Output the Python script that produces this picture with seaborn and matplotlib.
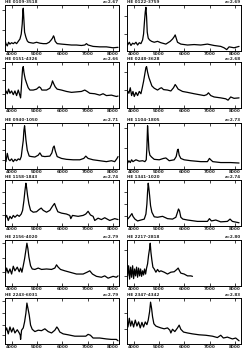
import matplotlib
matplotlib.use("Agg")
import matplotlib.pyplot as plt
import seaborn as sns

sns.set_style("ticks")
plt.rcParams['font.family'] = ['DejaVu Sans']

names = ["HE 0109-3518", "HE 0122-3759", "HE 0151-4326", "HE 0248-3628",
         "HE 0940-1050", "HE 1104-1805", "HE 1158-1843", "HE 1341-1020",
         "HE 2156-4020", "HE 2217-2818", "HE 2243-6031", "HE 2347-4342"]
zlabels = ["z=2.67", "z=2.69", "z=2.66", "z=2.68", "z=2.71", "z=2.73",
           "z=2.74", "z=2.74", "z=2.79", "z=2.80", "z=2.79", "z=2.83"]
xticks = [4000, 5000, 6000, 7000, 8000]
xticklabels = ["4000", "5000", "6000", "7000", "8000"]

wl1 = [3738, 3777, 3830, 3882, 3935, 4000, 4066, 4131, 4197, 4262, 4328, 4380, 4419, 4446, 4459, 4485, 4511, 4563, 4616, 4668, 4747, 4852, 4983, 5114, 5245, 5376, 5480, 5559, 5611, 5651, 5677, 5717, 5795, 5965, 6162, 6358, 6555, 6751, 6882, 6948, 7013, 7210, 7472, 7734, 7996, 8192]
fl1 = [.24, .16, .11, .19, .15, .18, .16, .19, .16, .21, .26, .37, .59, .89, .93, .67, .41, .30, .22, .19, .18, .17, .19, .17, .16, .16, .19, .24, .28, .33, .30, .21, .16, .15, .14, .13, .13, .12, .13, .16, .13, .10, .09, .09, .07, .08]

wl2 = [3725, 3764, 3830, 3895, 3961, 4026, 4092, 4157, 4223, 4288, 4354, 4393, 4432, 4459, 4485, 4511, 4537, 4576, 4629, 4707, 4812, 4943, 5074, 5271, 5441, 5533, 5598, 5638, 5677, 5729, 5860, 6122, 6384, 6646, 6908, 7170, 7432, 7563, 7668, 7760, 7956, 8153]
fl2 = [.19, .13, .19, .12, .17, .15, .19, .13, .18, .16, .24, .37, .67, .85, .95, .74, .41, .28, .24, .21, .19, .21, .18, .15, .21, .26, .31, .35, .28, .19, .15, .13, .14, .13, .15, .12, .10, .07, .03, .09, .07, .10]

wl3 = [3777, 3830, 3882, 3935, 4000, 4066, 4131, 4197, 4262, 4301, 4354, 4380, 4406, 4433, 4459, 4485, 4511, 4537, 4590, 4655, 4721, 4852, 4983, 5087, 5140, 5192, 5376, 5507, 5573, 5611, 5664, 5717, 5795, 5965, 6162, 6358, 6555, 6751, 6882, 6974, 7079, 7275, 7472, 7603, 7734, 7931, 8127, 8192]
fl3 = [.37, .31, .41, .32, .37, .29, .37, .27, .39, .32, .22, .41, .65, .85, .90, .78, .70, .63, .54, .44, .39, .39, .41, .46, .44, .39, .39, .43, .51, .59, .52, .46, .41, .39, .36, .34, .35, .36, .39, .36, .32, .31, .28, .31, .27, .28, .25, .26]

wl4 = [3764, 3816, 3869, 3921, 3974, 4026, 4092, 4157, 4223, 4288, 4341, 4393, 4445, 4485, 4511, 4550, 4603, 4655, 4720, 4812, 4943, 5048, 5100, 5179, 5336, 5467, 5572, 5638, 5677, 5755, 5926, 6122, 6384, 6581, 6777, 6882, 6948, 7039, 7170, 7432, 7629, 7720, 7825, 7956, 8153]
fl4 = [.37, .32, .44, .27, .36, .25, .34, .27, .36, .31, .44, .58, .75, .88, .90, .78, .66, .58, .48, .43, .39, .43, .44, .40, .39, .37, .44, .51, .48, .41, .36, .34, .31, .29, .27, .29, .33, .27, .24, .22, .20, .17, .24, .21, .22]

wl5 = [3777, 3830, 3882, 3935, 4000, 4066, 4131, 4197, 4262, 4328, 4380, 4419, 4459, 4485, 4511, 4537, 4563, 4616, 4694, 4786, 4917, 5048, 5114, 5192, 5310, 5507, 5586, 5638, 5677, 5717, 5795, 5965, 6162, 6424, 6686, 6843, 6922, 7013, 7210, 7472, 7734, 7931, 8062, 8153, 8192]
fl5 = [.16, .34, .21, .18, .22, .16, .21, .18, .22, .20, .27, .45, .62, .84, .94, .80, .64, .41, .28, .27, .26, .30, .35, .28, .27, .28, .35, .47, .50, .40, .27, .23, .21, .20, .20, .23, .28, .23, .20, .18, .16, .18, .16, .23, .27]

wl6 = [3764, 3816, 3869, 3921, 3974, 4092, 4223, 4354, 4445, 4498, 4524, 4550, 4576, 4603, 4642, 4707, 4812, 5009, 5179, 5271, 5402, 5598, 5677, 5729, 5755, 5795, 5860, 5991, 6253, 6646, 6908, 6987, 7039, 7118, 7432, 7825, 8153]
fl6 = [.13, .18, .14, .20, .16, .20, .17, .18, .16, .20, .48, .94, .70, .41, .30, .26, .21, .20, .23, .24, .18, .20, .27, .41, .43, .30, .23, .20, .18, .16, .16, .23, .20, .16, .14, .14, .13]

wl7 = [3738, 3804, 3869, 3935, 4000, 4066, 4131, 4223, 4301, 4380, 4433, 4485, 4524, 4563, 4590, 4629, 4681, 4747, 4852, 4983, 5087, 5166, 5245, 5376, 5507, 5611, 5690, 5743, 5821, 5965, 6162, 6293, 6332, 6397, 6620, 6817, 6922, 7013, 7105, 7210, 7275, 7406, 7537, 7668, 7865, 8062, 8192]
fl7 = [.16, .23, .12, .21, .16, .23, .19, .24, .21, .26, .34, .55, .76, .93, .84, .66, .48, .34, .30, .31, .36, .39, .34, .30, .34, .43, .49, .41, .31, .28, .26, .23, .16, .23, .21, .23, .26, .32, .24, .21, .12, .17, .14, .18, .12, .16, .14]

wl8 = [3764, 3830, 3895, 3934, 3974, 4052, 4157, 4288, 4419, 4485, 4524, 4550, 4576, 4603, 4629, 4668, 4720, 4812, 4943, 5140, 5336, 5533, 5664, 5729, 5768, 5808, 5860, 5939, 6122, 6515, 6908, 6987, 7065, 7236, 7432, 7694, 7799, 7891, 8153]
fl8 = [.15, .19, .24, .27, .21, .15, .11, .13, .15, .26, .48, .74, .93, .81, .67, .44, .30, .20, .19, .21, .16, .15, .19, .30, .37, .33, .19, .15, .13, .10, .10, .16, .11, .13, .09, .10, .15, .10, .07]

wl9 = [3738, 3804, 3869, 3935, 4000, 4066, 4131, 4223, 4301, 4354, 4406, 4459, 4511, 4563, 4603, 4642, 4681, 4747, 4812, 4917, 5048, 5179, 5376, 5573, 5703, 5769, 5834, 5926, 6096, 6293, 6555, 6817, 6974, 7079, 7184, 7341, 7537, 7668, 7800, 7996, 8127, 8192]
fl9 = [.22, .39, .28, .37, .26, .43, .33, .41, .31, .39, .30, .44, .59, .78, .93, .81, .63, .44, .37, .36, .39, .36, .37, .36, .39, .46, .41, .36, .33, .30, .26, .26, .30, .33, .26, .21, .19, .22, .17, .21, .19, .22]

wl10 = [3725, 3764, 3803, 3843, 3882, 3921, 3961, 4000, 4039, 4078, 4118, 4157, 4197, 4236, 4275, 4314, 4354, 4393, 4432, 4472, 4511, 4550, 4590, 4629, 4655, 4681, 4720, 4760, 4812, 4878, 4943, 5009, 5074, 5205, 5336, 5467, 5598, 5703, 5755, 5808, 5860, 5991, 6122, 6253, 6319]
fl10 = [.48, .22, .44, .15, .41, .19, .44, .16, .37, .22, .41, .19, .39, .22, .37, .21, .33, .24, .37, .26, .39, .48, .67, .81, .93, .74, .56, .41, .37, .30, .36, .31, .33, .30, .26, .30, .31, .36, .39, .33, .28, .26, .22, .22, .21]

wl11 = [3738, 3804, 3869, 3935, 4000, 4066, 4131, 4223, 4301, 4341, 4354, 4393, 4459, 4511, 4563, 4603, 4642, 4694, 4747, 4812, 4917, 5048, 5179, 5310, 5441, 5573, 5703, 5782, 5834, 5900, 6031, 6227, 6489, 6751, 6922, 7013, 7105, 7210, 7472, 7734, 7931, 8127, 8192]
fl11 = [.26, .35, .22, .37, .26, .35, .24, .31, .24, .19, .10, .30, .35, .48, .67, .89, .78, .63, .41, .32, .27, .30, .29, .33, .27, .24, .30, .37, .33, .26, .22, .20, .17, .17, .17, .21, .19, .13, .13, .11, .10, .10, .07]

wl12 = [3725, 3777, 3830, 3882, 3934, 4000, 4066, 4131, 4197, 4262, 4328, 4393, 4459, 4524, 4576, 4629, 4668, 4707, 4747, 4799, 4878, 4969, 5074, 5205, 5336, 5428, 5467, 5533, 5624, 5729, 5795, 5860, 5965, 6122, 6319, 6581, 6843, 7105, 7301, 7432, 7537, 7694, 7891, 8022, 8153]
fl12 = [.48, .37, .56, .39, .50, .37, .52, .39, .48, .35, .47, .37, .48, .42, .52, .70, .91, .78, .59, .44, .39, .37, .35, .33, .35, .30, .24, .32, .27, .35, .41, .32, .26, .24, .22, .20, .19, .17, .14, .19, .13, .15, .11, .13, .07]

yticks = [[0.46, 0.89], [0.37, 0.76], [0.31, 0.60, 0.88], [0.39, 0.78],
          [0.20, 0.41, 0.64, 0.87], [0.45, 0.89], [0.24, 0.49, 0.74],
          [0.22, 0.47, 0.73], [0.30, 0.61, 0.93], [0.22, 0.78],
          [0.19, 0.42, 0.67, 0.94], [0.33, 0.67]]

wls = [wl1, wl2, wl3, wl4, wl5, wl6, wl7, wl8, wl9, wl10, wl11, wl12]
fls = [fl1, fl2, fl3, fl4, fl5, fl6, fl7, fl8, fl9, fl10, fl11, fl12]

W, H = 245, 350
fig = plt.figure(figsize=(W / 100, H / 100), dpi=100)
col_left = [5, 127]
row_top = [5, 62, 123, 180, 240, 298]
aw, ah = 114, 46

for i in range(12):
    r, c = divmod(i, 2)
    x0 = col_left[c]
    y0 = row_top[r]
    ax = fig.add_axes([x0 / W, 1 - (y0 + ah) / H, aw / W, ah / H])
    sns.lineplot(x=wls[i], y=fls[i], ax=ax, color="black", lw=0.9, estimator=None, sort=False)
    ax.set_xlim(3740, 8230)
    ax.set_ylim(0, 1)
    ax.set_xticks(xticks)
    ax.set_xticklabels(xticklabels, fontweight="bold")
    ax.set_yticks(yticks[i])
    ax.set_yticklabels([])
    ax.tick_params(axis="x", direction="in", length=2, width=0.6, labelsize=3, pad=0.6, top=True)
    ax.tick_params(axis="y", direction="out", length=2, width=0.6)
    for s in ax.spines.values():
        s.set_linewidth(0.7)
        s.set_color("black")
    ax.set_xlabel("")
    ax.set_ylabel("")
    fig.text(x0 / W, 1 - (y0 - 0.8) / H, names[i], fontsize=3, fontweight="bold", ha="left", va="bottom")
    fig.text((x0 + aw) / W, 1 - (y0 - 0.8) / H, zlabels[i], fontsize=3, fontweight="bold", ha="right", va="bottom")

fig.savefig("out.png", dpi=100)
